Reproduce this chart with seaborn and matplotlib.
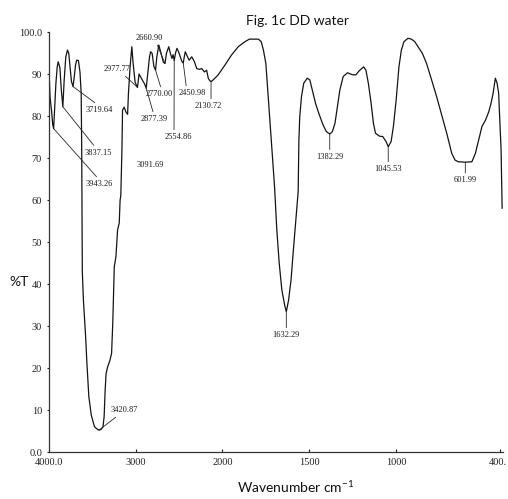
import numpy as np
import pandas as pd
import matplotlib
matplotlib.use("Agg")
import matplotlib.pyplot as plt
import matplotlib.transforms as mtransforms
import seaborn as sns

# FTIR spectrum of DD water: wavenumber (cm-1) and transmittance (%T)
wavenumber = [
    4000, 3993, 3985, 3966, 3954, 3943.26, 3936, 3917, 3902, 3891, 3871, 3856,
    3837.15, 3822, 3803, 3784, 3769, 3754, 3738, 3719.64, 3705, 3692, 3678, 3658,
    3640, 3626, 3620, 3617, 3613, 3600, 3587, 3575, 3560, 3538, 3510, 3473, 3445,
    3420.87, 3396, 3375, 3362, 3350, 3339, 3321, 3294, 3276, 3268, 3262, 3245,
    3226, 3207, 3188, 3178, 3170, 3157, 3150, 3131, 3112, 3091.69, 3082, 3063,
    3043, 3028, 3005, 2977.77, 2960, 2923, 2895, 2877.39, 2858, 2840, 2827, 2809,
    2789, 2770.00, 2755, 2732, 2706, 2680, 2660.90, 2645, 2618, 2599, 2581, 2568,
    2554.86, 2540, 2524, 2505, 2485, 2467, 2450.98, 2440, 2428, 2402, 2383, 2353,
    2322, 2296, 2265, 2239, 2208, 2182, 2163, 2145, 2130.72, 2106, 2049, 1986,
    1948, 1909, 1870, 1845, 1793, 1777, 1764, 1750, 1735, 1719, 1700, 1687, 1673,
    1658, 1642, 1632.29, 1619, 1605, 1590, 1574, 1564, 1560, 1555, 1545, 1532,
    1512, 1497, 1483, 1464, 1445, 1421, 1402, 1382.29, 1367, 1352, 1338, 1324,
    1305, 1280, 1251, 1232, 1212, 1187, 1174, 1160, 1144, 1131, 1119, 1096, 1077,
    1058, 1045.53, 1029, 1016, 1000, 984, 970, 955, 932, 912, 893, 874, 849, 825,
    796, 767, 738, 709, 680, 661, 642, 601.99, 564, 544, 525, 506, 486, 467, 454,
    442, 429, 419, 410, 396, 390,
]
transmittance = [
    90.0, 89.0, 84.6, 81.0, 78.0, 77.0, 80.0, 87.8, 91.7, 92.9, 91.5, 86.5,
    82.2, 88.5, 94.1, 95.7, 94.9, 91.7, 88.2, 87.0, 89.5, 92.0, 93.3, 93.2,
    90.5, 85.4, 72.0, 58.0, 43.0, 36.0, 31.4, 27.5, 21.1, 13.2, 8.8, 6.0, 5.5,
    5.2, 5.4, 6.0, 8.4, 14.8, 18.7, 20.3, 21.9, 23.5, 27.5, 31.0, 44.1,
    46.5, 52.9, 54.5, 60.0, 61.0, 71.9, 81.4, 82.1, 81.0, 80.4, 85.4, 91.7,
    96.5, 92.5, 88.0, 86.8, 90.0, 88.6, 87.6, 86.6, 90.5, 94.0, 95.3, 94.9,
    91.8, 90.9, 94.1, 96.9, 94.9, 92.8, 92.5, 94.9, 96.5, 94.9, 93.7, 94.6,
    93.2, 95.0, 96.1, 95.3, 94.1, 93.0, 92.6, 94.0, 95.3, 94.1, 93.3, 94.1,
    92.9, 91.3, 91.1, 91.3, 90.5, 90.9, 89.0, 88.4, 88.2, 88.6, 89.8, 92.1,
    94.5, 96.5, 97.7, 98.3, 98.3, 97.7, 95.7, 92.5, 83.8, 74.3, 63.2, 52.9, 44.9,
    38.6, 35.0, 33.4, 36.2, 41.0, 48.9, 56.8, 62.0, 74.0, 79.8, 84.6, 87.8,
    89.0, 88.6, 86.2, 83.0, 80.6, 77.9, 76.3, 75.7, 76.3, 78.3, 82.2, 86.2,
    89.4, 90.3, 89.8, 89.8, 90.8, 91.7, 90.9, 87.8, 83.0, 78.3, 75.9, 75.2, 75.1,
    73.9, 72.7, 73.9, 77.5, 83.8, 91.7, 95.7, 97.7, 98.5, 98.3, 97.7, 96.5, 94.9, 92.5,
    88.6, 84.6, 80.2, 75.9, 71.1, 69.5, 69.1, 69.0, 69.1, 71.1, 74.3, 77.5, 79.0, 81.0, 83.0,
    85.4, 89.0, 87.8, 85.4, 71.9, 58.0,
]

# Labelled band positions (cm-1)
peak_labels = ["3943.26", "3837.15", "3719.64", "3091.69", "2977.77", "2877.39",
               "2770.00", "2660.90", "2554.86", "2450.98", "2130.72", "3420.87",
               "1632.29", "1382.29", "1045.53", "601.99"]
peak_positions = [float(s) for s in peak_labels]

x_ticks = [4000, 3000, 2000, 1500, 1000, 400]
x_tick_labels = ["4000.0", "3000", "2000", "1500", "1000", "400."]
y_ticks = [0, 10, 20, 30, 40, 50, 60, 70, 80, 90, 100]
y_tick_labels = ["0.0", "10", "20", "30", "40", "50", "60", "70", "80", "90", "100.0"]

sns.set_theme(style="white")
plt.rcParams["font.family"] = ["Liberation Serif", "DejaVu Serif"]
plt.rcParams["mathtext.fontset"] = "custom"
plt.rcParams["mathtext.rm"] = "Lato"

W, H = 508, 499
fig = plt.figure(figsize=(W / 100, H / 100), dpi=100)
fig.patch.set_facecolor("white")
ax = fig.add_axes([48.7 / W, 1 - 452 / H, (503 - 48.7) / W, 420 / H])


# instrument double scale: below 2000 cm-1 the axis is stretched twofold
def fwd(x):
    x = np.asarray(x, dtype=float)
    return np.where(x >= 2000, x, 2 * x - 2000)


def inv(u):
    u = np.asarray(u, dtype=float)
    return np.where(u >= 2000, u, (u + 2000) / 2)


ax.set_xscale("function", functions=(fwd, inv))

df = pd.DataFrame({"wavenumber": wavenumber, "T": transmittance})
sns.lineplot(data=df, x="wavenumber", y="T", sort=False, estimator=None,
             color="#141414", lw=0.9, ax=ax)

ax.set_xlim(4000, 385)
ax.set_ylim(0, 100)
ax.set_xlabel("")
ax.set_ylabel("")
ax.set_facecolor("white")

for side in ("top", "right"):
    ax.spines[side].set_visible(False)
for side in ("left", "bottom"):
    ax.spines[side].set_color("#333333")
    ax.spines[side].set_linewidth(0.9)

ax.set_xticks(x_ticks)
ax.set_xticklabels(x_tick_labels)
ax.set_yticks(y_ticks)
ax.set_yticklabels(y_tick_labels)
ax.minorticks_off()
ax.tick_params(axis="x", bottom=True, direction="in", length=2.5, width=0.8,
               pad=4.5, labelsize=7.5, colors="#222222")
ax.tick_params(axis="y", left=True, direction="out", length=1.5, width=0.8,
               pad=3.3, labelsize=7.5, colors="#222222")

# keep the last wavenumber label inside the figure edge
last_label = ax.get_xticklabels()[-1]
last_label.set_transform(last_label.get_transform() +
                         mtransforms.ScaledTranslation(-3 / 100, 0, fig.dpi_scale_trans))

# band annotations: text offset in pixels, leader attachment on the text box
label_layout = {
    "3943.26": ((45.8, -55.4), (0.5, 1.0)),
    "3837.15": ((35.0, -45.9), (0.45, 1.0)),
    "3719.64": ((26.2, -23.4), (0.5, 1.0)),
    "3091.69": ((23.0, -50.7), None),
    "2977.77": ((-20.9, 18.4), (0.7, 0.0)),
    "2877.39": ((7.7, -30.7), (0.5, 1.0)),
    "2770.00": ((3.3, -23.8), (0.6, 1.0)),
    "2660.90": ((-15.8, 25.5), (0.75, 0.0)),
    "2554.86": ((3.9, -76.4), (0.35, 1.0)),
    "2450.98": ((8.8, -29.9), (0.3, 1.0)),
    "2130.72": ((-2.8, -24.4), (0.6, 1.0)),
    "3420.87": ((25.0, 20.2), (0.35, 0.0)),
    "1632.29": ((0.0, -23.3), (0.5, 1.0)),
    "1382.29": ((0.0, -22.7), (0.5, 1.0)),
    "1045.53": ((0.0, -22.3), (0.5, 1.0)),
    "601.99": ((0.0, -18.0), (0.5, 1.0)),
}

wn_inc = np.array(wavenumber[::-1])
t_inc = np.array(transmittance[::-1])
for lab, pos in zip(peak_labels, peak_positions):
    t_val = float(np.interp(pos, wn_inc, t_inc))
    offset, rel = label_layout[lab]
    arrow = None
    if rel is not None:
        arrow = dict(arrowstyle="-", lw=0.6, color="#262626", relpos=rel,
                     shrinkA=0, shrinkB=0)
    ax.annotate(lab, xy=(pos, t_val), xytext=offset, textcoords="offset pixels",
                ha="center", va="center", fontsize=6, color="#1a1a1a",
                family="Liberation Serif", arrowprops=arrow)

fig.text(298 / W, 1 - 21 / H, "Fig. 1c DD water", ha="center", va="center",
         family="Lato", fontsize=10, color="#111111")
fig.text(296 / W, 1 - 487 / H, r"Wavenumber cm$^{\mathrm{-1}}$", ha="center",
         va="center", family="Lato", fontsize=10, color="#111111")
fig.text(19 / W, 1 - 282 / H, "%T", ha="center", va="center",
         family="Lato", fontsize=10, color="#111111")

fig.savefig("out.png", dpi=100, facecolor="white")
